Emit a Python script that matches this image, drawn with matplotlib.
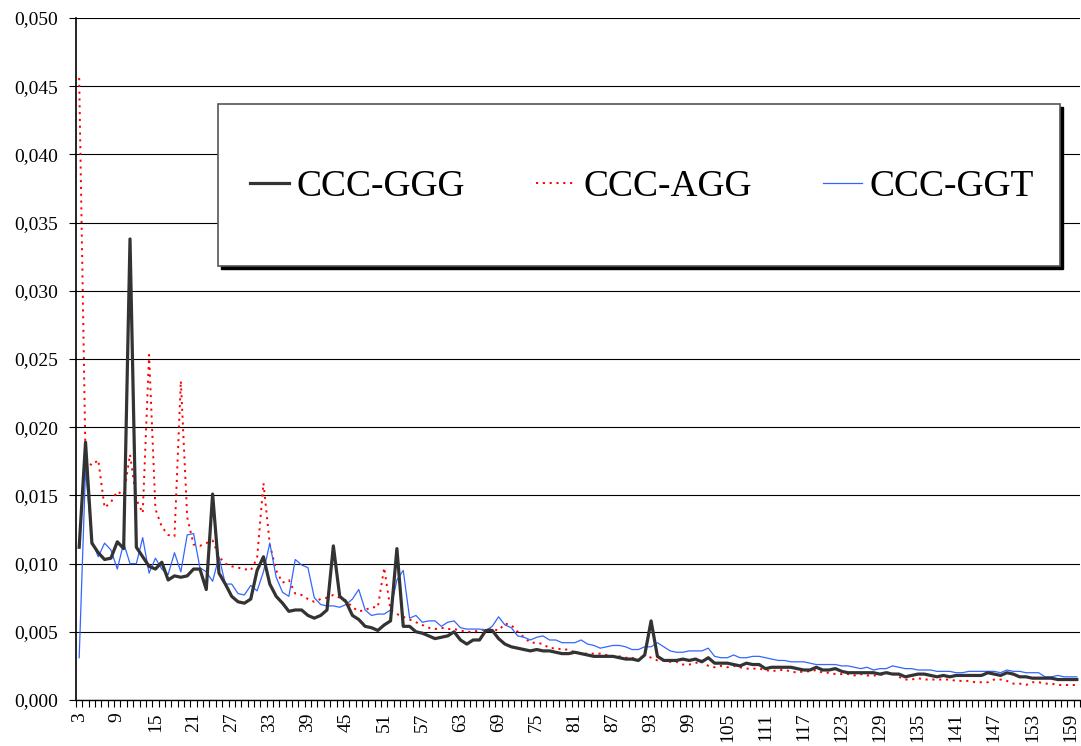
import numpy as np
import matplotlib
matplotlib.use("Agg")
import matplotlib.pyplot as plt
from matplotlib.patches import Rectangle
from matplotlib.ticker import FuncFormatter, MultipleLocator

# series values, one per category (3 .. 160)
ggg = [0.0112, 0.0189, 0.0115, 0.0108, 0.0103, 0.0104, 0.0116, 0.0111, 0.0338, 0.0112,
       0.0105, 0.0098, 0.0096, 0.0101, 0.0088, 0.0091, 0.0090, 0.0091, 0.0096, 0.0096,
       0.0081, 0.0151, 0.0093, 0.0085, 0.0076, 0.0072, 0.0071, 0.0074, 0.0095, 0.0105,
       0.0085, 0.0076, 0.0071, 0.0065, 0.0066, 0.0066, 0.0062, 0.0060, 0.0062, 0.0066,
       0.0113, 0.0076, 0.0072, 0.0062, 0.0059, 0.0054, 0.0053, 0.0051, 0.0055, 0.0058,
       0.0111, 0.0054, 0.0054, 0.0050, 0.0049, 0.0047, 0.0045, 0.0046, 0.0047, 0.0050,
       0.0044, 0.0041, 0.0044, 0.0044, 0.0051, 0.0051, 0.0045, 0.0041, 0.0039, 0.0038,
       0.0037, 0.0036, 0.0037, 0.0036, 0.0036, 0.0035, 0.0034, 0.0034, 0.0035, 0.0034,
       0.0033, 0.0032, 0.0032, 0.0032, 0.0032, 0.0031, 0.0030, 0.0030, 0.0029, 0.0033,
       0.0058, 0.0032, 0.0029, 0.0029, 0.0029, 0.0030, 0.0029, 0.0030, 0.0028, 0.0031,
       0.0027, 0.0027, 0.0027, 0.0026, 0.0025, 0.0027, 0.0026, 0.0026, 0.0023, 0.0024,
       0.0024, 0.0024, 0.0024, 0.0023, 0.0022, 0.0022, 0.0024, 0.0022, 0.0022, 0.0023,
       0.0021, 0.0020, 0.0020, 0.0020, 0.0020, 0.0020, 0.0019, 0.0020, 0.0019, 0.0019,
       0.0017, 0.0018, 0.0019, 0.0019, 0.0018, 0.0017, 0.0018, 0.0017, 0.0018, 0.0018,
       0.0018, 0.0018, 0.0018, 0.0020, 0.0019, 0.0018, 0.0020, 0.0019, 0.0017, 0.0017,
       0.0016, 0.0016, 0.0016, 0.0016, 0.0015, 0.0015, 0.0015, 0.0015]

agg = [0.0456, 0.0176, 0.0172, 0.0176, 0.0141, 0.0145, 0.0153, 0.0150, 0.0180, 0.0147,
       0.0137, 0.0253, 0.0140, 0.0127, 0.0121, 0.0120, 0.0234, 0.0134, 0.0114, 0.0113,
       0.0115, 0.0117, 0.0105, 0.0100, 0.0098, 0.0097, 0.0096, 0.0095, 0.0104, 0.0159,
       0.0114, 0.0095, 0.0086, 0.0088, 0.0078, 0.0077, 0.0074, 0.0072, 0.0074, 0.0075,
       0.0077, 0.0075, 0.0073, 0.0068, 0.0065, 0.0066, 0.0068, 0.0068, 0.0097, 0.0066,
       0.0063, 0.0061, 0.0059, 0.0057, 0.0055, 0.0053, 0.0052, 0.0053, 0.0052, 0.0052,
       0.0051, 0.0050, 0.0050, 0.0051, 0.0052, 0.0052, 0.0051, 0.0056, 0.0055, 0.0050,
       0.0046, 0.0042, 0.0042, 0.0041, 0.0038, 0.0038, 0.0037, 0.0037, 0.0035, 0.0034,
       0.0034, 0.0034, 0.0034, 0.0033, 0.0032, 0.0032, 0.0031, 0.0031, 0.0029, 0.0033,
       0.0031, 0.0029, 0.0029, 0.0028, 0.0028, 0.0026, 0.0026, 0.0027, 0.0029, 0.0025,
       0.0024, 0.0025, 0.0024, 0.0025, 0.0024, 0.0023, 0.0023, 0.0023, 0.0022, 0.0021,
       0.0022, 0.0022, 0.0021, 0.0020, 0.0021, 0.0021, 0.0022, 0.0020, 0.0020, 0.0019,
       0.0019, 0.0019, 0.0018, 0.0019, 0.0018, 0.0018, 0.0018, 0.0020, 0.0020, 0.0017,
       0.0015, 0.0015, 0.0016, 0.0015, 0.0015, 0.0015, 0.0015, 0.0015, 0.0014, 0.0014,
       0.0014, 0.0013, 0.0013, 0.0013, 0.0015, 0.0015, 0.0014, 0.0012, 0.0012, 0.0011,
       0.0013, 0.0013, 0.0012, 0.0012, 0.0011, 0.0011, 0.0011, 0.0011]

ggt = [0.0031, 0.0169, 0.0117, 0.0105, 0.0115, 0.0110, 0.0096, 0.0115, 0.0100, 0.0100,
       0.0119, 0.0093, 0.0104, 0.0096, 0.0092, 0.0108, 0.0094, 0.0121, 0.0122, 0.0097,
       0.0094, 0.0087, 0.0105, 0.0085, 0.0085, 0.0078, 0.0077, 0.0084, 0.0080, 0.0094,
       0.0115, 0.0090, 0.0079, 0.0076, 0.0103, 0.0099, 0.0097, 0.0075, 0.0070, 0.0069,
       0.0069, 0.0068, 0.0070, 0.0074, 0.0081, 0.0066, 0.0062, 0.0063, 0.0063, 0.0066,
       0.0088, 0.0095, 0.0060, 0.0062, 0.0057, 0.0058, 0.0058, 0.0054, 0.0057, 0.0058,
       0.0053, 0.0052, 0.0052, 0.0052, 0.0051, 0.0054, 0.0061, 0.0055, 0.0053, 0.0047,
       0.0046, 0.0044, 0.0046, 0.0047, 0.0044, 0.0044, 0.0042, 0.0042, 0.0042, 0.0044,
       0.0041, 0.0040, 0.0038, 0.0039, 0.0040, 0.0040, 0.0039, 0.0037, 0.0037, 0.0039,
       0.0039, 0.0042, 0.0039, 0.0036, 0.0035, 0.0035, 0.0036, 0.0036, 0.0036, 0.0038,
       0.0032, 0.0031, 0.0031, 0.0033, 0.0031, 0.0031, 0.0032, 0.0032, 0.0031, 0.0030,
       0.0029, 0.0029, 0.0028, 0.0028, 0.0028, 0.0027, 0.0026, 0.0026, 0.0026, 0.0026,
       0.0025, 0.0025, 0.0024, 0.0023, 0.0024, 0.0022, 0.0023, 0.0023, 0.0025, 0.0024,
       0.0023, 0.0023, 0.0022, 0.0022, 0.0022, 0.0021, 0.0021, 0.0021, 0.0020, 0.0020,
       0.0021, 0.0021, 0.0021, 0.0021, 0.0021, 0.0020, 0.0022, 0.0021, 0.0021, 0.0020,
       0.0020, 0.0020, 0.0017, 0.0017, 0.0018, 0.0017, 0.0017, 0.0017]

labels = ["CCC-GGG", "CCC-AGG", "CCC-GGT"]
first_cat = 3
x = np.arange(first_cat, first_cat + len(ggg))

plt.rcParams['font.family'] = ['Liberation Serif', 'DejaVu Serif']

W, H = 1081, 746
fig = plt.figure(figsize=(W / 100, H / 100), dpi=100)
ax = fig.add_axes([76 / W, 46 / H, 1004 / W, 682 / H])

ax.plot(x, ggg, color='#333333', lw=2.3, label=labels[0], zorder=4)
ax.plot(x, agg, color='#ff0000', lw=1.4, ls=(0, (1.1, 2.4)), label=labels[1], zorder=3)
ax.plot(x, ggt, color='#3366ff', lw=0.9, label=labels[2], zorder=3)

ax.set_xlim(x[0] - 0.5, x[-1] + 0.5)
ax.set_ylim(0, 0.05)

ax.yaxis.set_major_locator(MultipleLocator(0.005))
ax.yaxis.set_major_formatter(FuncFormatter(lambda v, p: f"{v:.3f}".replace('.', ',')))
ax.grid(axis='y', color='black', lw=0.8)
ax.set_axisbelow(True)

ax.set_xticks(x[::6])
ax.set_xticklabels([str(v) for v in x[::6]], rotation=90)
ax.set_xticks(np.arange(x[0] - 0.5, x[-1] + 1), minor=True)
ax.tick_params(axis='x', which='major', length=0, pad=9, labelsize=14)
ax.tick_params(axis='x', which='minor', length=5, width=0.8, direction='out')
ax.tick_params(axis='y', length=5, width=0.8, pad=8, labelsize=14)

for s in ['top', 'right']:
    ax.spines[s].set_visible(False)
ax.spines['left'].set_linewidth(1.2)
ax.spines['bottom'].set_linewidth(1.0)

# legend box with a hard black shadow, drawn by hand
bx, by, bw, bh = 218, 104, 842, 162
fig.patches.append(Rectangle(((bx + 3) / W, 1 - (by + bh + 3) / H), bw / W, bh / H,
                             transform=fig.transFigure, facecolor='black', edgecolor='black',
                             zorder=8))
fig.patches.append(Rectangle((bx / W, 1 - (by + bh) / H), bw / W, bh / H,
                             transform=fig.transFigure, facecolor='white', edgecolor='#555555',
                             lw=1.2, zorder=9))

leg = fig.legend(ncol=3, loc='center', bbox_to_anchor=(642 / W, 1 - 187 / H),
                 fontsize=27, frameon=False, handlelength=1.05, handletextpad=0.2,
                 columnspacing=1.9, borderaxespad=0, borderpad=0)
leg.set_zorder(10)

fig.savefig('out.png', dpi=100)
